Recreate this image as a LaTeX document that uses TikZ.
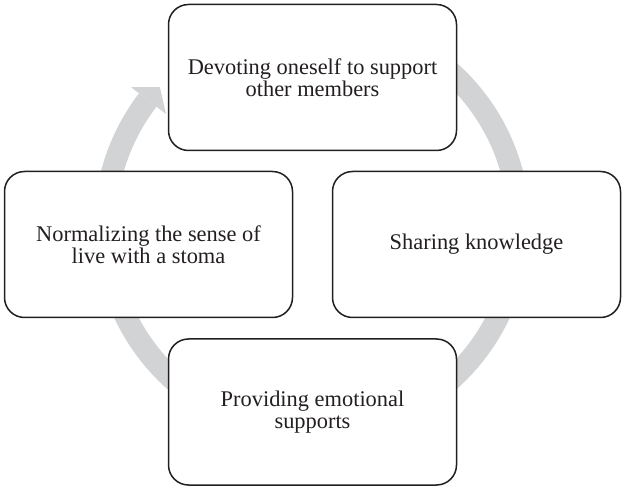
\documentclass[tikz,border=0pt]{standalone}
\usepackage{fontspec}
\setmainfont{Liberation Serif}
\usetikzlibrary{calc}
\definecolor{ringgray}{RGB}{209,211,212}
\definecolor{ink}{RGB}{35,31,32}
\begin{document}
\begin{tikzpicture}[x=1pt,y=1pt,
  cyclebox/.style={draw=ink, line width=1.5pt, rounded corners=20pt, fill=white,
    minimum width=288pt, minimum height=146pt, align=center,
    font=\fontsize{22.4}{22.5}\selectfont, text=ink, inner sep=0pt},
  ring/.style={draw=ringgray, line width=22pt}]
\useasboundingbox (0,0) rectangle (626,490);
\coordinate (c) at (312,264);
\draw[ring] ($(c)+(90:207)$) arc[start angle=90, end angle=-217.5, radius=207];
\fill[ringgray] ($(c)+(142.5:228)$) -- ($(c)+(137.6:206)$) -- ($(c)+(142.5:184)$) -- cycle;
\node[cyclebox] (top) at (312.5,412.5) {Devoting oneself to support\\other members};
\node[cyclebox] (right) at (476.5,245.5) {Sharing knowledge};
\node[cyclebox] (bottom) at (312.5,78) {Providing emotional\\supports};
\node[cyclebox] (left) at (148.5,245.5) {Normalizing the sense of\\live with a stoma};
\end{tikzpicture}
\end{document}
